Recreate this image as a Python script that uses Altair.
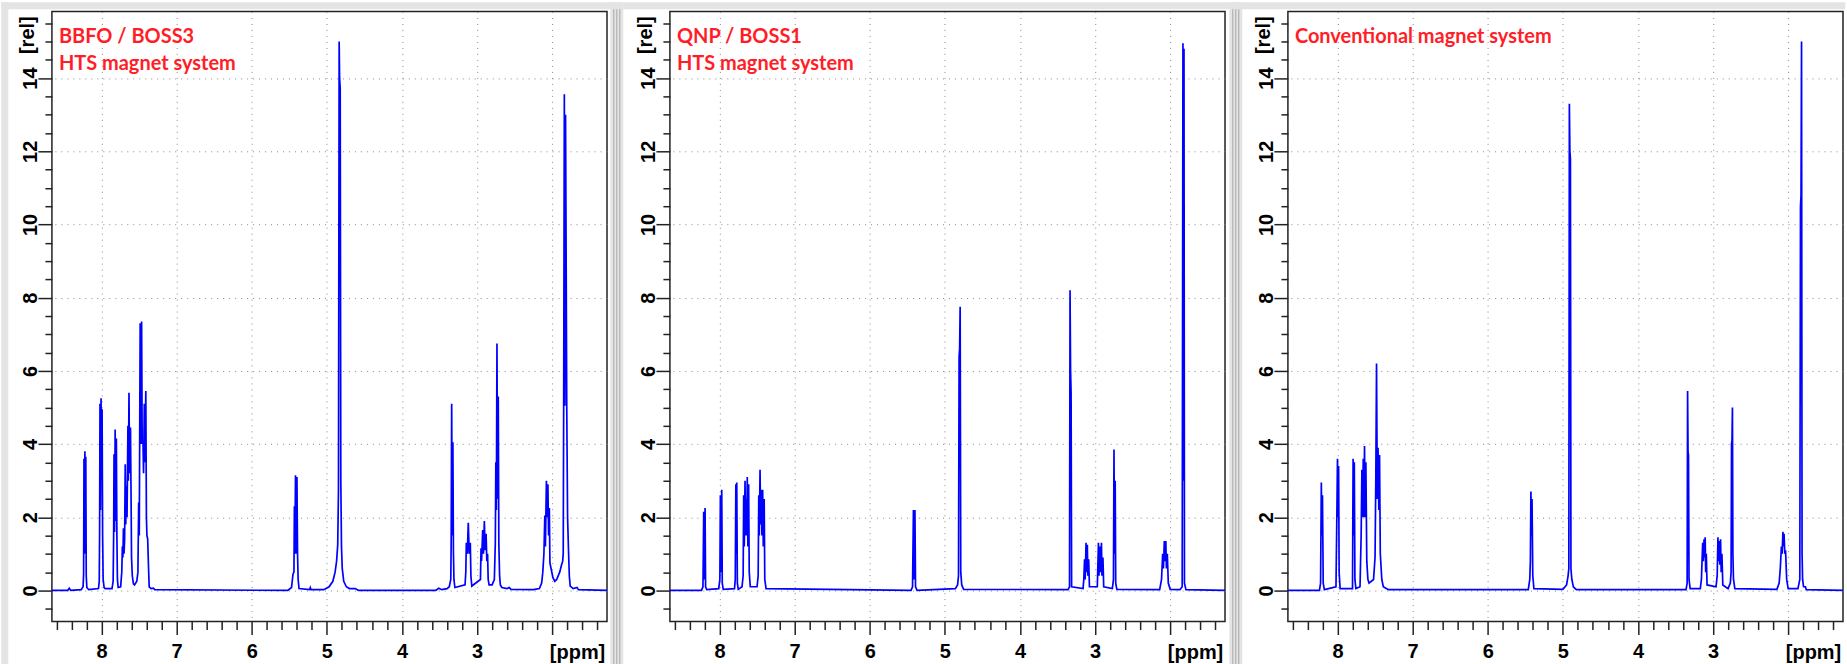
import altair as alt
import pandas as pd

# ---------------- data (ppm, relative intensity) ----------------
# Panel 1: BBFO / BOSS3, HTS magnet system
p1_points = [
    (8.66, 0.0), (8.45, 0.0), (8.43, 0.06), (8.41, 0.0),
    (8.27, 0.02), (8.245, 0.1), (8.238, 0.45), (8.233, 3.6), (8.227, 1.0), (8.221, 3.8), (8.216, 1.2),
    (8.209, 3.65), (8.203, 0.4), (8.195, 0.08), (8.17, 0.02),
    (8.04, 0.05), (8.03, 0.25), (8.025, 1.6), (8.02, 5.1), (8.013, 2.2), (8.006, 5.25), (7.999, 3.3),
    (7.992, 4.95), (7.985, 1.5), (7.978, 0.3), (7.965, 0.08), (7.95, 0.05),
    (7.86, 0.05), (7.845, 0.25), (7.838, 1.55), (7.833, 3.72), (7.826, 1.6), (7.818, 4.4), (7.811, 1.9),
    (7.802, 4.15), (7.795, 1.5), (7.788, 0.3), (7.778, 0.08),
    (7.745, 0.1), (7.73, 0.5), (7.722, 1.2), (7.715, 0.9), (7.708, 1.7), (7.70, 1.0), (7.692, 1.4),
    (7.684, 3.45), (7.677, 1.8), (7.668, 2.85), (7.66, 2.0), (7.648, 4.5), (7.642, 3.0), (7.634, 5.4),
    (7.626, 3.2), (7.614, 4.45), (7.606, 2.5), (7.60, 0.9), (7.59, 0.4), (7.575, 0.18), (7.56, 0.15),
    (7.53, 0.25), (7.515, 0.5), (7.505, 2.4), (7.497, 1.5), (7.485, 7.3), (7.478, 4.0), (7.466, 7.35),
    (7.458, 4.0), (7.448, 4.1), (7.44, 3.2), (7.43, 5.1), (7.422, 3.5), (7.41, 5.45), (7.402, 2.0),
    (7.395, 1.5), (7.385, 1.4), (7.375, 0.7), (7.365, 0.1), (7.34, 0.05), (7.31, 0.06), (7.29, 0.02),
    (5.52, 0.0), (5.47, 0.08), (5.45, 0.45), (5.438, 0.5), (5.432, 2.3), (5.426, 1.0), (5.417, 3.15),
    (5.41, 1.0), (5.398, 3.1), (5.39, 1.0), (5.382, 0.3), (5.37, 0.05), (5.23, 0.02), (5.22, 0.08),
    (5.21, 0.02),
    (5.04, 0.02), (4.97, 0.1), (4.92, 0.25), (4.89, 0.5), (4.87, 0.8), (4.855, 1.25), (4.845, 2.76),
    (4.836, 15.0), (4.83, 14.0), (4.822, 13.73), (4.814, 3.0), (4.805, 1.2), (4.795, 0.6), (4.775, 0.25),
    (4.74, 0.1), (4.70, 0.05), (4.62, 0.05), (4.58, 0.0),
    (3.55, 0.0), (3.51, 0.06), (3.47, 0.02), (3.40, 0.05), (3.37, 0.1), (3.35, 0.3), (3.345, 1.2),
    (3.338, 5.1), (3.331, 1.5), (3.322, 4.05), (3.315, 1.1), (3.308, 0.3), (3.295, 0.08),
    (3.16, 0.15), (3.15, 0.5), (3.143, 1.3), (3.13, 1.0), (3.117, 1.85), (3.104, 1.0), (3.09, 1.3),
    (3.082, 0.4), (3.07, 0.12),
    (2.955, 0.3), (2.947, 1.15), (2.94, 0.8), (2.925, 1.65), (2.915, 1.0), (2.903, 1.9), (2.893, 1.1),
    (2.88, 1.55), (2.87, 0.8), (2.86, 1.0), (2.852, 0.3), (2.84, 0.15),
    (2.80, 0.15), (2.77, 0.3), (2.757, 1.3), (2.75, 3.5), (2.743, 2.2), (2.735, 6.75), (2.727, 2.5),
    (2.718, 5.3), (2.71, 1.25), (2.70, 0.4), (2.69, 0.15), (2.67, 0.08), (2.60, 0.05), (2.57, 0.08),
    (2.55, 0.03),
    (2.25, 0.02), (2.17, 0.05), (2.14, 0.2), (2.125, 0.5), (2.11, 1.0), (2.098, 2.05), (2.09, 1.2),
    (2.077, 3.0), (2.068, 2.0), (2.057, 2.9), (2.048, 1.5), (2.038, 2.25), (2.03, 0.75), (2.015, 0.6),
    (1.99, 0.35), (1.965, 0.25),
    (1.94, 0.3), (1.90, 0.5), (1.875, 0.7), (1.86, 0.8), (1.853, 1.0), (1.847, 5.0), (1.838, 13.56),
    (1.831, 5.05), (1.822, 13.0), (1.815, 9.6), (1.806, 5.0), (1.795, 2.0), (1.782, 1.05), (1.772, 0.4),
    (1.76, 0.12), (1.72, 0.05), (1.67, 0.08), (1.65, 0.02), (1.27, 0.0),
]

# Panel 2: QNP / BOSS1, HTS magnet system
p2_points = [
    (8.66, 0.0), (8.24, 0.0), (8.22, 0.1), (8.21, 2.15), (8.203, 0.3), (8.192, 2.25), (8.185, 0.1),
    (8.17, 0.02),
    (8.01, 0.05), (7.995, 0.3), (7.988, 2.6), (7.98, 0.5), (7.97, 2.75), (7.963, 0.2), (7.95, 0.03),
    (7.80, 0.05), (7.79, 0.3), (7.782, 2.9), (7.776, 1.0), (7.77, 2.95), (7.762, 0.2), (7.75, 0.03),
    (7.70, 0.1), (7.685, 0.4), (7.678, 2.6), (7.67, 1.2), (7.66, 3.0), (7.652, 1.5), (7.643, 2.5),
    (7.637, 1.5), (7.63, 3.1), (7.622, 1.2), (7.612, 2.9), (7.604, 0.5), (7.59, 0.1),
    (7.50, 0.1), (7.485, 0.4), (7.477, 2.6), (7.47, 1.5), (7.46, 3.3), (7.452, 1.8), (7.443, 2.75),
    (7.435, 1.5), (7.425, 2.75), (7.417, 1.2), (7.405, 2.5), (7.397, 0.3), (7.38, 0.05),
    (5.45, 0.0), (5.43, 0.1), (5.418, 2.2), (5.41, 0.3), (5.398, 2.2), (5.39, 0.1), (5.37, 0.0),
    (4.86, 0.05), (4.83, 0.15), (4.818, 0.4), (4.81, 6.4), (4.803, 6.6), (4.796, 7.75), (4.788, 0.5),
    (4.775, 0.15), (4.75, 0.03),
    (3.36, 0.02), (3.34, 0.1), (3.333, 8.2), (3.326, 6.0), (3.319, 5.4), (3.312, 0.1),
    (3.16, 0.05), (3.15, 0.3), (3.14, 0.85), (3.132, 0.3), (3.12, 1.3), (3.113, 0.5), (3.103, 1.25),
    (3.096, 0.4), (3.085, 0.85), (3.075, 0.1),
    (2.97, 0.1), (2.955, 1.3), (2.948, 0.4), (2.935, 1.2), (2.928, 0.5), (2.915, 1.3), (2.908, 0.4),
    (2.895, 0.9), (2.885, 0.1),
    (2.77, 0.05), (2.755, 0.3), (2.748, 3.85), (2.74, 1.0), (2.732, 3.0), (2.725, 0.2), (2.71, 0.03),
    (2.14, 0.02), (2.115, 0.3), (2.10, 1.0), (2.09, 0.6), (2.078, 1.35), (2.07, 0.8), (2.058, 1.35),
    (2.05, 0.6), (2.038, 1.0), (2.025, 0.2), (2.0, 0.03),
    (1.87, 0.02), (1.84, 0.1), (1.83, 14.95), (1.823, 3.0), (1.816, 14.8), (1.81, 0.2), (1.79, 0.02),
    (1.27, 0.0),
]

# Panel 3: Conventional magnet system
p3_points = [
    (8.66, 0.0), (8.24, 0.0), (8.225, 0.2), (8.215, 2.95), (8.208, 1.5), (8.20, 2.6), (8.19, 0.2),
    (8.175, 0.02),
    (8.02, 0.1), (8.008, 2.1), (8.0, 3.6), (7.993, 2.0), (7.985, 3.4), (7.978, 0.5), (7.965, 0.05),
    (7.80, 0.05), (7.792, 3.6), (7.785, 1.5), (7.776, 3.5), (7.768, 0.3), (7.755, 0.05),
    (7.70, 0.1), (7.685, 1.5), (7.675, 3.3), (7.667, 2.0), (7.657, 3.6), (7.65, 2.0), (7.64, 3.95),
    (7.632, 2.0), (7.622, 3.5), (7.61, 0.8), (7.595, 0.3), (7.58, 0.2),
    (7.52, 0.3), (7.50, 0.9), (7.49, 3.0), (7.48, 6.2), (7.47, 2.5), (7.46, 3.9), (7.45, 2.2),
    (7.44, 3.7), (7.43, 1.0), (7.41, 0.3), (7.39, 0.1), (7.35, 0.05), (7.32, 0.02),
    (5.46, 0.02), (5.44, 0.3), (5.432, 0.8), (5.425, 2.7), (5.418, 1.5), (5.41, 2.5), (5.40, 0.4),
    (5.385, 0.05),
    (5.0, 0.03), (4.95, 0.15), (4.93, 0.4), (4.92, 0.6), (4.913, 13.3), (4.906, 12.0), (4.899, 11.8),
    (4.892, 0.6), (4.88, 0.3), (4.86, 0.1), (4.82, 0.02),
    (3.36, 0.02), (3.345, 0.2), (3.339, 5.45), (3.333, 3.8), (3.327, 3.7), (3.32, 0.3), (3.305, 0.05),
    (3.17, 0.05), (3.155, 0.3), (3.145, 0.9), (3.138, 1.3), (3.13, 0.8), (3.12, 1.4), (3.113, 0.9),
    (3.105, 1.45), (3.098, 0.5), (3.09, 1.0), (3.08, 0.15),
    (2.96, 0.1), (2.945, 0.4), (2.935, 1.45), (2.928, 0.8), (2.918, 1.35), (2.91, 0.7), (2.90, 1.4),
    (2.892, 0.5), (2.882, 1.0), (2.87, 0.15),
    (2.80, 0.05), (2.77, 0.2), (2.76, 0.5), (2.754, 4.0), (2.748, 4.1), (2.742, 5.0), (2.736, 1.0),
    (2.728, 0.3), (2.71, 0.05),
    (2.15, 0.03), (2.12, 0.2), (2.105, 0.6), (2.09, 1.2), (2.08, 1.0), (2.07, 1.6), (2.062, 1.2),
    (2.055, 1.55), (2.045, 1.0), (2.035, 1.1), (2.02, 0.3), (2.0, 0.05),
    (1.87, 0.05), (1.845, 0.3), (1.836, 10.5), (1.829, 10.8), (1.822, 15.0), (1.815, 1.0), (1.808, 0.3),
    (1.795, 0.1), (1.77, 0.1), (1.76, 0.02), (1.27, 0.0),
]

panel_titles = [
    ["BBFO / BOSS3", "HTS magnet system"],
    ["QNP / BOSS1", "HTS magnet system"],
    ["Conventional magnet system"],
]

x_tick_values = [round(1.4 + 0.2 * i, 1) for i in range(37)]
y_tick_values = [-0.5 + 0.5 * i for i in range(33)]

# ---------------- styling ----------------
W, H = 556, 611
PPM_DOMAIN = [1.27, 8.66]
INT_DOMAIN = [-0.85, 15.82]
AXIS_FONT = "Liberation Sans"
TITLE_FONT = "Lato"
RED = "#ff1e28"
BLUE = "#0000ff"
STRIP = "#e4e4e4"
SEP_LINE = "#a8a8a8"

x_major = "abs(datum.value - round(datum.value)) < 0.01"
y_major = "abs(datum.value / 2 - round(datum.value / 2)) < 0.01"

x_axis = alt.Axis(
    values=x_tick_values,
    domain=False,
    grid=True, gridColor="#8a8a8a", gridDash=[1, 5], gridWidth=1,
    gridOpacity={"condition": {"test": x_major, "value": 1}, "value": 0},
    ticks=True, tickColor="#222222", tickWidth=1.5,
    tickSize={"condition": {"test": x_major, "value": 13}, "value": 8},
    labelExpr=f"({x_major}) && round(datum.value) != 2 ? toString(round(datum.value)) : ''",
    labelFont=AXIS_FONT, labelFontSize=20, labelFontWeight="bold", labelColor="#000000",
    labelAngle=0, labelBaseline="alphabetic", labelPadding=23.5,
    labelOverlap=False, labelFlush=False,
    title="[ppm]", titleFont=AXIS_FONT, titleFontSize=20, titleFontWeight="bold",
    titleColor="#000000", titleX=526, titleY=36.7, titleAlign="center",
    titleBaseline="alphabetic", titleAngle=0,
)

y_axis = alt.Axis(
    values=y_tick_values,
    domain=False,
    grid=True, gridColor="#8a8a8a", gridDash=[1, 5], gridWidth=1,
    gridOpacity={"condition": {"test": y_major, "value": 1}, "value": 0},
    ticks=True, tickColor="#222222", tickWidth=1.5,
    tickSize={"condition": {"test": y_major, "value": 14}, "value": 7},
    labelExpr=f"({y_major}) && datum.value >= 0 ? toString(round(datum.value)) : ''",
    labelFont=AXIS_FONT, labelFontSize=20, labelFontWeight="bold", labelColor="#000000",
    labelAngle=270, labelAlign="center", labelBaseline="alphabetic", labelPadding=1.7,
    labelOverlap=False, labelFlush=False,
    title="[rel]", titleFont=AXIS_FONT, titleFontSize=20, titleFontWeight="bold",
    titleColor="#000000", titleX=-18.5, titleY=23.2, titleAlign="center",
    titleBaseline="alphabetic", titleAngle=270,
)


def one_row():
    return pd.DataFrame({"k": [0]})


def panel(points, titles, left_gap, right_strip_to, separator):
    df = pd.DataFrame(points, columns=["ppm", "intensity"])
    df["order"] = range(len(df))

    spectrum = alt.Chart(df).mark_line(color=BLUE, strokeWidth=1.7, clip=True).encode(
        x=alt.X("ppm:Q", scale=alt.Scale(domain=PPM_DOMAIN, reverse=True, nice=False, zero=False),
                axis=x_axis),
        y=alt.Y("intensity:Q", scale=alt.Scale(domain=INT_DOMAIN, nice=False, zero=False),
                axis=y_axis),
        order="order:Q",
    )

    layers = []
    # grey window strip along the top of the panel
    layers.append(alt.Chart(one_row()).mark_rect(color=STRIP).encode(
        x=alt.value(-left_gap), x2=alt.value(right_strip_to), y=alt.value(-9.3), y2=alt.value(-2.3)))
    if left_gap > 50:
        layers.append(alt.Chart(one_row()).mark_rect(color=STRIP).encode(
            x=alt.value(-left_gap), x2=alt.value(-left_gap + 7), y=alt.value(-9.3), y2=alt.value(654.7)))
    if separator is not None:
        layers.append(alt.Chart(one_row()).mark_rect(color=STRIP).encode(
            x=alt.value(separator), x2=alt.value(separator + 13), y=alt.value(-9.3), y2=alt.value(654.7)))
        for dx in (3.5, 6.5, 9.5):
            layers.append(alt.Chart(one_row()).mark_rule(color=SEP_LINE, strokeWidth=1).encode(
                x=alt.value(separator + dx), y=alt.value(-2.3), y2=alt.value(654.7)))

    layers.append(spectrum)

    baselines = [31.4, 59.0]
    for txt, yb in zip(titles, baselines):
        layers.append(alt.Chart(pd.DataFrame({"t": [txt]})).mark_text(
            font=TITLE_FONT, fontSize=20, fontWeight="bold", color=RED,
            align="left", baseline="alphabetic").encode(
            x=alt.value(7), y=alt.value(yb), text="t:N"))

    return alt.layer(*layers).properties(width=W, height=H)


c1 = panel(p1_points, panel_titles[0], 50.7, 572.3, 559.3)
c2 = panel(p2_points, panel_titles[1], 46.7, 573.3, 560.3)
c3 = panel(p3_points, panel_titles[2], 48.7, 558.3, None)

chart = alt.hconcat(c1, c2, c3, spacing=63, bounds="flush").properties(
    padding=0, background="#ffffff"
).configure_view(stroke="#222222", strokeWidth=1.5, fill="#ffffff")

chart.save("out.html", embed_options={"renderer": "svg", "actions": False})
